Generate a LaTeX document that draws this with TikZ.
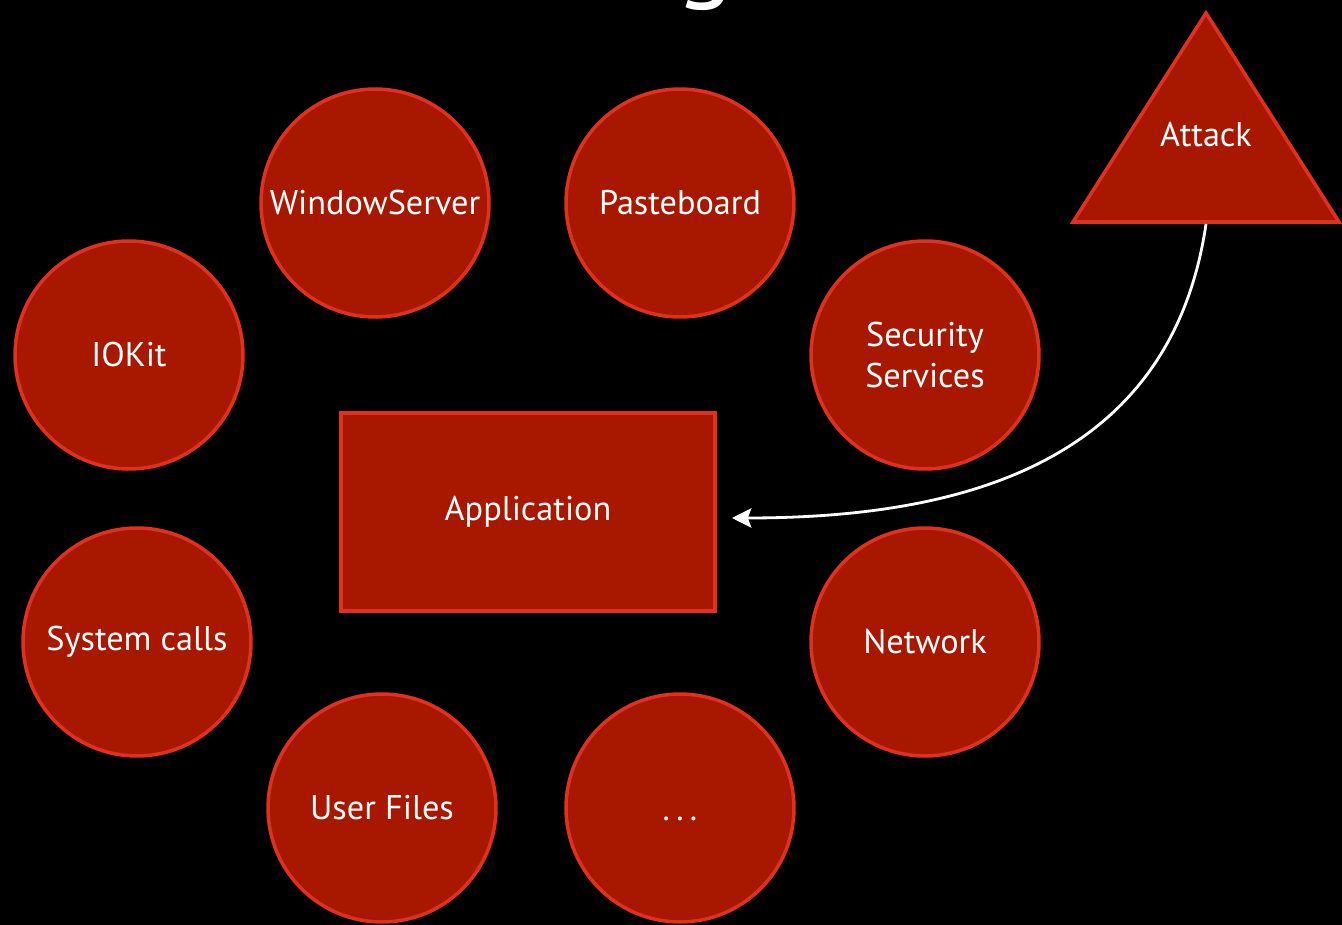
\documentclass[tikz,border=0pt]{standalone}
\usepackage{fontspec}
\setmainfont{PT Sans}
\usetikzlibrary{arrows.meta}
\definecolor{boxfill}{HTML}{A81700}
\definecolor{boxedge}{HTML}{E2301E}
\begin{document}
\begin{tikzpicture}[x=0.02cm,y=-0.02cm,
  labelfont/.style={text=white,font=\fontsize{19.5}{23}\selectfont},
  part/.style={circle,draw=boxedge,fill=boxfill,line width=2pt,minimum size=4.56cm,inner sep=0pt,
    labelfont,align=center},
  app/.style={rectangle,draw=boxedge,fill=boxfill,line width=2pt,minimum width=7.48cm,minimum height=3.96cm,
    labelfont},
  attackshape/.style={draw=boxedge,fill=boxfill,line width=2pt,line join=miter},
  flow/.style={white,line width=1.6pt,-{Stealth[length=11pt,width=11pt,inset=2pt]}}]
\fill[black] (0,0) rectangle (1342,925);
\useasboundingbox (0,0) rectangle (1342,925);
% title letter, mostly above the page
\node[text=white,font=\fontsize{62}{70}\selectfont,anchor=base] (title) at (705,-12) {g};
% services around the application
\node[part] (ws) at (375,203) {WindowServer};
\node[part] (pb) at (680,203) {Pasteboard};
\node[part] (iokit) at (129,355) {IOKit};
\node[part] (sec) at (925,355) {Security\\Services};
\node[part] (sys) at (137,642) {System calls};
\node[part] (net) at (925,642) {Network};
\node[part] (files) at (382,808) {User Files};
\node[part] (more) at (680,808) {};
\node[labelfont,anchor=base,inner sep=0pt] (dots) at (more.center) [yshift=-0.24cm] {.\hspace{3.6pt}.\hspace{3.6pt}.};
\node[app] (app) at (528,512) {Application};
% attack triangle
\draw[attackshape] (1206,13) -- (1339,222) -- (1073,222) -- cycle;
\coordinate (atk) at (1206,224);
\node[labelfont] (attack) at (1206,135) {Attack};
\coordinate (hit) at (732,518);
\draw[flow] (atk) .. controls (1170,470) and (950,518) .. (hit);
\end{tikzpicture}
\end{document}
